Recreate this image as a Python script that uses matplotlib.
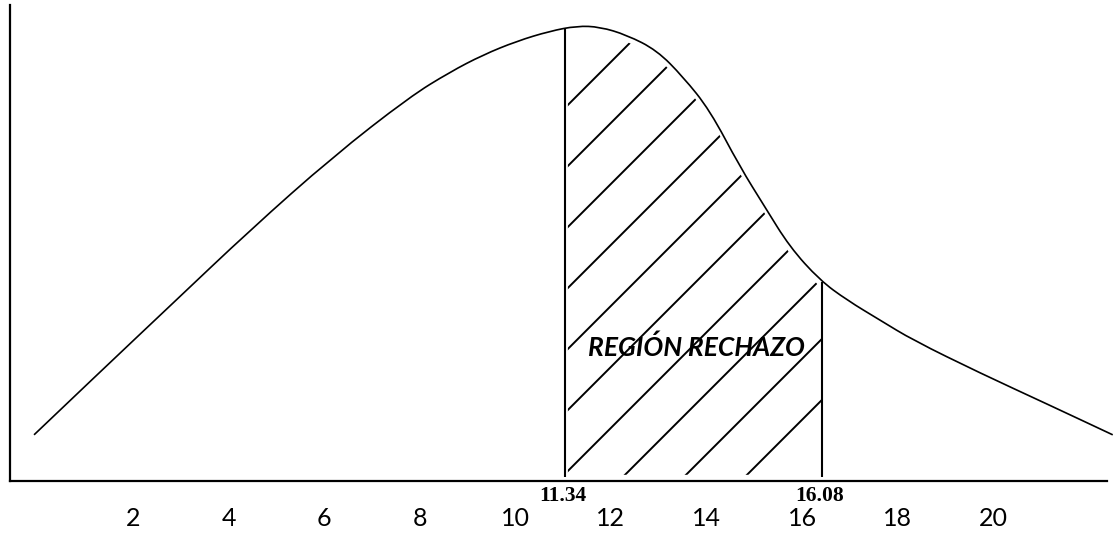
import numpy as np
import matplotlib.pyplot as plt
from matplotlib.patches import Polygon, PathPatch
from matplotlib.path import Path

# curve: x on the tick scale, height in arbitrary units (0-1)
curve_x = [-0.07, 1.31, 2.84, 4.45, 6.18, 7.79, 8.63, 9.32, 10.03, 10.72, 11.29,
           11.77, 12.33, 12.96, 13.51, 14.07, 14.70, 15.22, 15.74, 16.37, 16.94,
           17.63, 18.32, 19.72, 21.12, 22.50]
curve_y = [0.097, 0.229, 0.374, 0.527, 0.681, 0.807, 0.859, 0.895, 0.924, 0.945, 0.956,
           0.954, 0.937, 0.905, 0.849, 0.779, 0.660, 0.576, 0.492, 0.422, 0.380,
           0.338, 0.296, 0.227, 0.162, 0.097]

tick_vals = [2, 4, 6, 8, 10, 12, 14, 16, 18, 20]

# boundary lines of the rejection region (drawn position) and their labels
crit_pos = [11.04, 16.41]
crit_labels = ['11.34', '16.08']
region_label = 'REGIÓN RECHAZO'

fig = plt.figure(figsize=(11.2, 5.35), dpi=100)
ax = fig.add_axes([10 / 1120, 54 / 535, 1097 / 1120, 476 / 535])
ax.set_xlim(-0.573, 22.38)
ax.set_ylim(0, 1)

# density curve, drawn as a smooth quadratic-bezier path through the read points
pts = list(zip(curve_x, curve_y))
verts = [pts[0]]
codes = [Path.MOVETO]
for i in range(1, len(pts) - 1):
    mid = ((pts[i][0] + pts[i + 1][0]) / 2, (pts[i][1] + pts[i + 1][1]) / 2)
    verts += [pts[i], mid]
    codes += [Path.CURVE3, Path.CURVE3]
verts.append(pts[-1])
codes.append(Path.LINETO)
ax.add_patch(PathPatch(Path(verts, codes), facecolor='none', edgecolor='black',
                       lw=1.2, clip_on=False))

# vertical boundary lines up to the curve
tops = np.interp(crit_pos, curve_x, curve_y)
ax.vlines(crit_pos, 0.008, tops, color='black', lw=1.5)

# clip polygon for the hatching (slightly inset from the curve)
lo, hi = crit_pos
inner = [(x, y - 0.014) for x, y in zip(curve_x, curve_y) if lo < x < hi]
poly = [(lo + 0.06, 0.013), (lo + 0.06, tops[0] - 0.014)] + inner + \
       [(hi, tops[1] - 0.014), (hi, 0.013)]
clip = Polygon(poly, closed=True, transform=ax.transData, facecolor='none', edgecolor='none')
ax.add_patch(clip)

# 45 degree hatch lines in screen space
p0 = ax.transData.transform((0, 0))
p1 = ax.transData.transform((1, 1))
sx, sy = p1[0] - p0[0], p1[1] - p0[1]
slope = sx / sy
step = 61 / sy
hatch_start = 0.784
for k in range(10):
    y0 = hatch_start - k * step
    ln, = ax.plot([lo, hi], [y0, y0 + slope * (hi - lo)], color='black', lw=1.4)
    ln.set_clip_path(clip)

ax.text(13.78, 0.282, region_label, fontsize=19, fontweight='bold', fontstyle='italic',
        family='Lato', ha='center', va='center')

for x, lab in zip(crit_pos, crit_labels):
    ax.text(x - 0.05, -0.0315, lab, family='Liberation Serif', fontweight='bold', fontsize=15.5,
            ha='center', va='center', clip_on=False)

ax.set_xticks(tick_vals)
ax.set_xticklabels([str(t) for t in tick_vals], fontsize=18, family='Lato')
ax.tick_params(axis='x', length=0, pad=19)
ax.set_yticks([])

for s in ['top', 'right']:
    ax.spines[s].set_visible(False)
for s in ['left', 'bottom']:
    ax.spines[s].set_linewidth(1.6)

fig.savefig('out.png', dpi=100)
